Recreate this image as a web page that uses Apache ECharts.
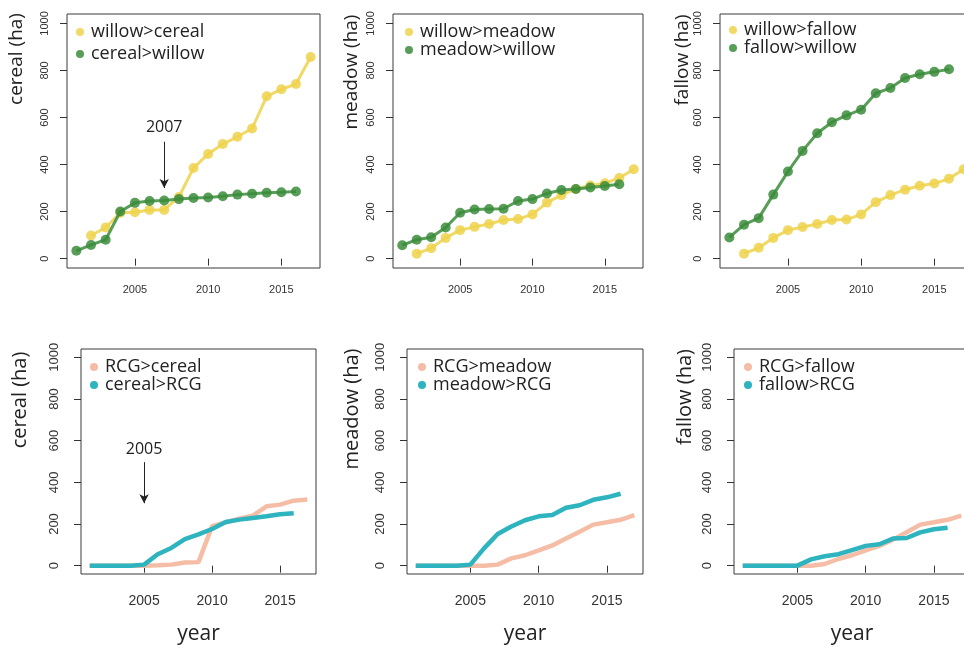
<!DOCTYPE html>
<html><head><meta charset="utf-8">
<script src="https://cdn.jsdelivr.net/npm/echarts@6/dist/echarts.min.js"></script>
<style>html,body{margin:0;padding:0;background:#fff}#c{width:964px;height:646px}</style>
</head><body><div id="c"></div>
<script>
const yearsA = [2001,2002,2003,2004,2005,2006,2007,2008,2009,2010,2011,2012,2013,2014,2015,2016];
const yearsB = [2002,2003,2004,2005,2006,2007,2008,2009,2010,2011,2012,2013,2014,2015,2016,2017];
const yearsAll = [2001,2002,2003,2004,2005,2006,2007,2008,2009,2010,2011,2012,2013,2014,2015,2016,2017];
const xTicks = [2005,2010,2015];
const yTicks = [0,200,400,600,800,1000];

// top row: willow
const willowToCereal = [98,132,195,197,207,207,262,385,445,487,518,553,690,720,742,857];
const cerealToWillow = [33,58,80,200,237,245,247,253,258,260,265,272,276,280,282,285];
const willowToMeadow = [21,44,88,121,135,147,164,168,188,238,270,296,311,320,343,380];
const meadowToWillow = [57,80,91,132,195,209,211,212,245,253,277,292,296,302,309,316];
const willowToFallow = [21,46,88,121,134,147,164,166,188,240,270,293,310,319,340,380];
const fallowToWillow = [90,144,172,272,370,458,533,580,609,633,703,725,768,784,794,805];

// bottom row: RCG
const rcgToCereal = [0,0,0,0,0,2,5,15,17,190,208,225,240,285,293,312,318];
const cerealToRcg = [0,0,0,0,5,55,85,127,150,176,210,221,229,237,247,252];
const rcgToMeadow = [0,0,0,0,0,0,5,35,50,73,97,130,163,197,208,220,243];
const meadowToRcg = [0,0,0,0,5,83,152,188,218,237,243,278,290,316,328,345];
const rcgToFallow = [0,0,0,0,0,0,8,32,50,73,95,125,160,197,208,220,240];
const fallowToRcg = [0,0,0,0,0,30,45,55,75,95,103,130,133,160,175,182];

const zip = (xs, ys) => ys.map((v, i) => [xs[i], v]);

const YELLOW = '#eed24c', GREEN = '#3b8c3b', SALMON = '#f5bda5', TEAL = '#2db4bf';
const TICKFONT = 'Liberation Sans, Arial, sans-serif';
const TXTFONT = 'Open Sans, sans-serif';

const panels = [
  {grid:{left:67,top:14,width:253,height:254}, top:true,
   s:[['willow>cereal',yearsB,willowToCereal,YELLOW],['cereal>willow',yearsA,cerealToWillow,GREEN]],
   legend:{left:76,top:23,gap:4}, ytitle:['cereal (ha)',17,59], ann:2007},
  {grid:{left:393,top:14,width:250,height:254}, top:true,
   s:[['willow>meadow',yearsB,willowToMeadow,YELLOW],['meadow>willow',yearsA,meadowToWillow,GREEN]],
   legend:{left:405,top:23,gap:0}, ytitle:['meadow (ha)',352,72]},
  {grid:{left:720,top:14,width:253,height:254}, top:true,
   s:[['willow>fallow',yearsB,willowToFallow,YELLOW],['fallow>willow',yearsA,fallowToWillow,GREEN]],
   legend:{left:729,top:21,gap:0}, ytitle:['fallow (ha)',683,60]},
  {grid:{left:81,top:349,width:235,height:225}, top:false,
   s:[['RCG>cereal',yearsAll,rcgToCereal,SALMON],['cereal>RCG',yearsA,cerealToRcg,TEAL]],
   legend:{left:90,top:358,gap:0}, ytitle:['cereal (ha)',20,400], ann:2005},
  {grid:{left:407,top:349,width:236,height:225}, top:false,
   s:[['RCG>meadow',yearsAll,rcgToMeadow,SALMON],['meadow>RCG',yearsA,meadowToRcg,TEAL]],
   legend:{left:418,top:358,gap:0}, ytitle:['meadow (ha)',352,409]},
  {grid:{left:734,top:349,width:236,height:225}, top:false,
   s:[['RCG>fallow',yearsAll,rcgToFallow,SALMON],['fallow>RCG',yearsA,fallowToRcg,TEAL]],
   legend:{left:744,top:358,gap:0}, ytitle:['fallow (ha)',685,397]}
];

const option = {animation:false, backgroundColor:'#fff', grid:[], xAxis:[], yAxis:[], series:[], legend:[], graphic:[]};

panels.forEach((p, gi) => {
  option.grid.push(Object.assign({show:true, borderColor:'#3a3a3a', borderWidth:1, backgroundColor:'transparent', containLabel:false, outerBoundsMode:'none'}, p.grid));
  const big = !p.top;
  option.xAxis.push({
    type:'value', gridIndex:gi, min:2000.36, max:2017.64,
    axisLine:{show:false}, splitLine:{show:false},
    axisTick:{show:true, inside:false, length:7, customValues:xTicks, lineStyle:{color:'#333'}},
    axisLabel:{show:true, customValues:xTicks, formatter:v=>String(v), margin: big?20:16, fontSize: big?14:11, color:'#333', fontFamily:TICKFONT},
    name: big ? 'year' : '', nameLocation:'middle', nameGap:50,
    nameTextStyle:{fontSize:21, color:'#222', fontFamily:TXTFONT}
  });
  option.yAxis.push({
    type:'value', gridIndex:gi, min:-40, max:1040,
    axisLine:{show:false}, splitLine:{show:false},
    axisTick:{show:true, inside:false, length:7, customValues:yTicks, lineStyle:{color:'#333'}},
    axisLabel:{show:true, customValues:yTicks, formatter:v=>String(v), rotate:90, margin: big?20:17, fontSize: big?13:11, color:'#333', fontFamily:TICKFONT}
  });
  p.s.forEach((s, si) => {
    const ser = {
      name:s[0], type:'line', xAxisIndex:gi, yAxisIndex:gi, data:zip(s[1], s[2]),
      color:s[3],
      showSymbol:p.top, symbol:'circle', symbolSize:10,
      lineStyle:{width:p.top?3:4.5, color:s[3], opacity:p.top?0.85:1},
      itemStyle:{color:s[3], opacity:p.top?0.85:1},
      z: 2+si
    };
    if (p.ann && si === 1) {
      ser.markLine = {silent:true, symbol:['none','arrow'], symbolSize:[7,9],
        lineStyle:{color:'#222', width:1, type:'solid'}, label:{show:false},
        data:[[{coord:[p.ann,497]},{coord:[p.ann,300]}]]};
      ser.markPoint = {silent:true, symbol:'circle', symbolSize:1, itemStyle:{color:'rgba(0,0,0,0)'},
        label:{show:true, position:'inside', formatter:String(p.ann), color:'#222', fontSize:16, fontFamily:TXTFONT},
        data:[{coord:[p.ann,556]}]};
    }
    option.series.push(ser);
  });
  option.legend.push({
    data:p.s.map(s=>s[0]), orient:'vertical', left:p.legend.left, top:p.legend.top,
    padding:0, itemGap:p.legend.gap, icon:'circle', itemWidth:8, itemHeight:8,
    textStyle:{fontSize:18, color:'#222', fontFamily:TXTFONT, padding:[0,0,0,2]},
    selectedMode:false
  });
  option.graphic.push({type:'text', x:p.ytitle[1], y:p.ytitle[2], rotation:Math.PI/2,
    style:{text:p.ytitle[0], fontSize: big?20:19, fontFamily:TXTFONT, fill:'#222', textAlign:'center', textVerticalAlign:'middle'}});
});

const chart = echarts.init(document.getElementById('c'), null, {renderer:'canvas'});
chart.setOption(option);
</script></body></html>
